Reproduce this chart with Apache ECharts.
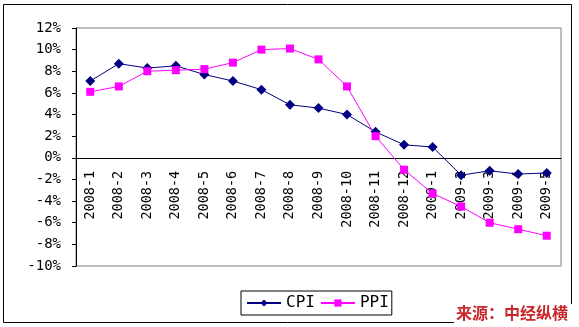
<!DOCTYPE html>
<html><head><meta charset="utf-8">
<script src="https://cdn.jsdelivr.net/npm/echarts@6/dist/echarts.min.js"></script>
<style>html,body{margin:0;padding:0;background:#fff}#c{width:579px;height:327px}</style>
</head><body><div id="c"></div>
<script>
var categories = ['2008-1','2008-2','2008-3','2008-4','2008-5','2008-6','2008-7','2008-8','2008-9','2008-10','2008-11','2008-12','2009-1','2009-2','2009-3','2009-4','2009-5'];
var cpi = [7.1, 8.7, 8.3, 8.5, 7.7, 7.1, 6.3, 4.9, 4.6, 4.0, 2.4, 1.2, 1.0, -1.6, -1.2, -1.5, -1.4];
var ppi = [6.1, 6.6, 8.0, 8.1, 8.2, 8.8, 10.0, 10.1, 9.1, 6.6, 2.0, -1.1, -3.3, -4.5, -6.0, -6.6, -7.2];
var yMin = -10, yMax = 12, yStep = 2;
var sourceText = '来源：中经纵横';

var gridTop = 28, gridBottom = 61, chartH = 327;
var plotH = chartH - gridTop - gridBottom;
// shift the category axis up to the zero line so its labels move with it
var zeroOffset = -plotH * (0 - yMin) / (yMax - yMin);

var chart = echarts.init(document.getElementById('c'));
chart.setOption({
  animation: false,
  backgroundColor: '#fff',
  grid: {left: 76, top: gridTop, right: 18, bottom: gridBottom, show: true, borderColor: '#808080', borderWidth: 1, outerBoundsMode: 'none', containLabel: false},
  legend: {
    left: 241, top: 291,
    padding: [4, 3, 4, 5],
    itemGap: 5, itemWidth: 34, itemHeight: 9,
    borderColor: '#000', borderWidth: 1,
    textStyle: {fontFamily: 'DejaVu Sans Mono', fontSize: 16, color: '#000'},
    data: ['CPI', 'PPI']
  },
  xAxis: {
    type: 'category', data: categories, boundaryGap: true,
    offset: zeroOffset,
    axisLine: {onZero: false, lineStyle: {color: '#000', width: 1}},
    axisTick: {inside: true, length: 4, lineStyle: {color: '#000'}},
    axisLabel: {rotate: 90, margin: 13, interval: 0, fontFamily: 'DejaVu Sans Mono', fontSize: 13.5, color: '#000'}
  },
  yAxis: {
    type: 'value', min: yMin, max: yMax, interval: yStep,
    axisLine: {show: true, lineStyle: {color: '#000'}},
    axisTick: {show: true, length: 4, lineStyle: {color: '#000'}},
    splitLine: {show: false},
    axisLabel: {margin: 15, fontFamily: 'DejaVu Sans Mono', fontSize: 14, color: '#000', formatter: function (v) { return v + '%'; }}
  },
  series: [
    {name: 'CPI', type: 'line', data: cpi, symbol: 'diamond', symbolSize: 10, z: 3,
     lineStyle: {color: '#000080', width: 1}, itemStyle: {color: '#000080'}},
    {name: 'PPI', type: 'line', data: ppi, symbol: 'rect', symbolSize: 8, z: 3,
     lineStyle: {color: '#FF00FF', width: 1}, itemStyle: {color: '#FF00FF'}}
  ],
  graphic: [
    {type: 'rect', shape: {x: 3.5, y: 4.5, width: 568, height: 318}, style: {fill: null, stroke: '#000', lineWidth: 1}, z: -1},
    {type: 'text', left: 454, top: 304, style: {text: sourceText, fill: '#c8282c', font: 'bold 16px "Noto Sans CJK SC"', backgroundColor: '#fff', padding: [1, 4, 6, 2]}, z: 10}
  ]
});
</script></body></html>
